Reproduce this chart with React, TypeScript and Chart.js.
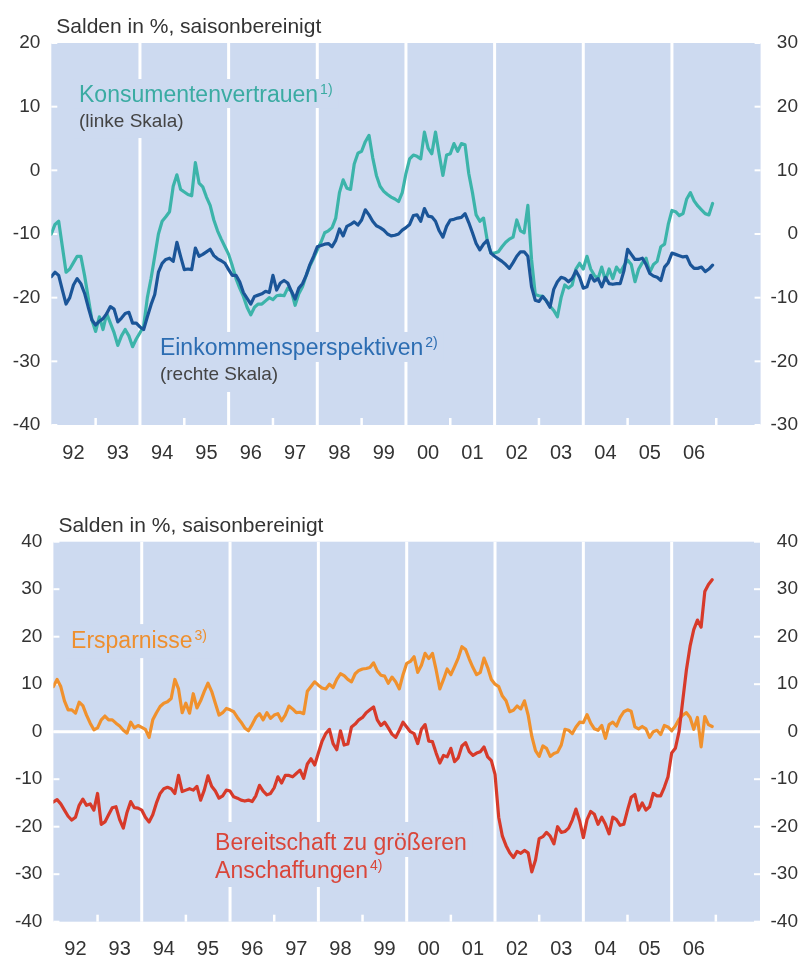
import React, { useEffect, useRef } from 'react';
import { Chart, registerables } from 'chart.js';

Chart.register(...registerables);

const FONT = "'Liberation Sans', Arial, Helvetica, sans-serif";
const PLOT_BG = '#cddaf0';
const TEXT = '#333333';

const START_YEAR = 1992;
const yearLabels = ['92', '93', '94', '95', '96', '97', '98', '99', '00', '01', '02', '03', '04', '05', '06'];
const dividerYears = [1994, 1996, 1998, 2000, 2002, 2004, 2006];
const minorTickYears = [1993, 1995, 1997, 1999, 2001, 2003, 2005, 2007];

// Top chart: monthly Jan 1992 – Dec 2006
const konsumentenvertrauen = [
  -10, -8.5, -8, -12, -16, -15.5, -14.5, -13.5, -13.5, -16.5, -20, -23.5,
  -25.3, -23, -25, -22.5, -24, -25.5, -27.5, -26, -25, -26, -27.7, -26.5,
  -25.5, -24.5, -20, -17, -13.5, -10, -8, -7.3, -6.5, -2.5, -0.7, -3,
  -3.4, -3.8, -4, 1.2, -2, -2.6, -4.2, -5.5, -7.8, -9.5, -10.8, -12,
  -13.2, -15, -17, -18.5, -19.8, -21.5, -22.7, -21.5, -21, -21, -20.5, -20,
  -20.3, -19.7, -19.6, -19.7, -18.5, -19, -21.2, -19.4, -18.3, -16.5, -15, -13.8,
  -12.5, -11.3, -9.8, -9.5, -9, -7.5, -3.5, -1.5, -2.8, -3, 1, 2.7,
  3, 4.5, 5.5, 2, -0.8, -2.5, -3.3, -3.8, -4.2, -4.5, -4.9, -3.5,
  -0.5, 1.8, 2.4, 2.2, 1.8, 6, 3.5, 2.6, 6, 2.5, -0.8, 2.4,
  2.6, 4.2, 3, 4.2, 4, -0.5, -3.5, -7, -8, -7.5, -11, -13,
  -13, -12.8, -12, -11.3, -10.8, -10.5, -7.8, -9.5, -9.8, -5.5, -14, -19.5,
  -19.7, -19.8, -20.5, -21.3, -22, -23, -20, -18, -18.5, -18, -15.5, -14.6,
  -15.5, -13.5, -15.5, -16.5, -17, -15.2, -17.3, -15.5, -17, -15.2, -16, -15,
  -14.1, -14.8, -17.5, -15.5, -14.5, -13.8, -16, -14.8, -14.3, -12, -11.6, -8.5,
  -6.3, -6.5, -7.1, -6.8, -4.5, -3.5, -4.8, -5.6, -6.2, -6.8, -7, -5.2,
];

const einkommensperspektiven = [
  -6.7, -6, -6.5, -8.8, -11, -10, -8, -7, -7.8, -9.3, -11.5, -13.5,
  -14.3, -13.7, -13.3, -12.5, -11.4, -11.8, -13.8, -13.2, -12.5, -12.3, -14, -14,
  -14.6, -15, -13, -11.1, -9.5, -6, -4.6, -4, -3.8, -4.3, -1.3, -3.5,
  -5.6, -5.5, -5.6, -2.2, -3.5, -3.2, -2.8, -2.4, -3.4, -3.9, -4.2, -4.6,
  -5.6, -6.5, -6.5, -7.5, -9.2, -10.1, -11, -9.8, -9.6, -9.4, -9, -9.2,
  -6.5, -8.8, -7.7, -7.3, -7.7, -9, -10.2, -8.5, -7.8, -6.5, -4.8, -3.5,
  -2, -1.8, -1.6, -1.5, -2, -1, 0.8, -0.3, 1.2, 1.5, 1.9, 1.4,
  2.2, 3.8, 3, 2, 1.3, 1, 0.6, 0, -0.3, -0.2, 0, 0.6,
  1, 1.5, 2.9, 3, 2, 4, 2.8, 2.7, 2, 0.5, -0.5, 1.2,
  2.2, 2.3, 2.5, 2.6, 3.2, 1.8, 0.2, -1.5, -2.5, -1.6, -1, -3,
  -3.5, -3.9, -4.3, -4.8, -5.4, -4.5, -3.5, -2.8, -2.8, -3.5, -8.3, -10.4,
  -10.6, -9.8, -10.5, -11.5, -8.7, -7.5, -6.8, -7, -7.5, -7, -5.8, -6.8,
  -8.5, -8.3, -6.5, -7.4, -7, -8.3, -6.8, -7.8, -7.9, -7.8, -7.8, -5.8,
  -2.4, -3.2, -4, -4, -3.8, -4.8, -6.2, -6.6, -6.8, -7.3, -5.2, -4.5,
  -3, -3.2, -3.4, -3.6, -3.5, -4.8, -5.4, -5.4, -5.2, -5.9, -5.5, -4.9,
];

// Bottom chart
const ersparnisse = [
  9.5, 11, 9.5, 6.5, 4.6, 4.6, 3.9, 6.2, 5.5, 3.5, 1.8, 0.4,
  0.8, 2.5, 3.3, 2.5, 2.5, 1.8, 1.2, 0.3, -0.3, 2, 0.8, 1.3,
  0.9, 0.5, -1.2, 2.5, 4, 5.3, 6, 6.3, 7, 11, 9, 4,
  6, 3.9, 8, 5, 6.5, 8.5, 10.2, 8.5, 6, 3.5, 4, 4.9,
  4.6, 4.2, 3, 2, 0.8, 0.2, 1.5, 3, 3.8, 2.5, 4, 2.8,
  3.5, 3.8, 2.3, 3.5, 5.4, 4.8, 4, 4.1, 3.8, 8.5, 9.5, 10.5,
  9.8, 9.2, 9, 10, 9.3, 11, 12.2, 11.8, 11, 10.5, 12.2, 12.9,
  13.2, 13.3, 13.5, 14.5, 12.8, 11.9, 11.7, 10.2, 11.5, 10.5, 9, 12,
  14.4, 14.8, 15.8, 12.5, 14, 16.5, 15.4, 16.5, 13, 9, 11, 13.2,
  12, 13.7, 15.5, 17.9, 17.3, 15.3, 13.5, 12, 12.5, 15.5, 13.5, 11,
  10, 9.5, 7.5, 6.5, 4.2, 4.5, 5.4, 4.8, 6.5, 3.5, -1, -4,
  -5.2, -3, -3.5, -5.2, -4.6, -4.3, -2.8, 0.5, 0.3, -0.4, 1, 2,
  1.9, 3.6, 1.8, 0.6, 0.3, 1.3, -1.4, 1.5, 2, 1.2, 3, 4.2,
  4.6, 4.3, 1, 0.6, 1.1, 0.6, -1.2, 0, 0.3, -0.6, 1.3, 1,
  0.2, 1.2, 2.6, 3.5, 4, 3, 0.5, 3, -3.2, 3.2, 1.5, 1.1,
];

const bereitschaft = [
  -14.8, -14.3, -15.2, -16.5, -17.8, -18.6, -18, -15.5, -14.2, -15.5, -15.2, -16.5,
  -13, -19.5, -19, -17.5, -16, -15.8, -18.5, -20.3, -17, -14.7, -16, -16.1,
  -16.5, -18, -19, -17.5, -15, -13, -12, -11.7, -12, -13, -9.2, -12.6,
  -12.3, -12, -12.3, -11.5, -14.4, -12.3, -9.3, -11.5, -12.5, -14, -13.5, -12.3,
  -12.5, -13.7, -14, -14.4, -14.6, -14.4, -14.7, -13.5, -11.3, -12.5, -13.3, -13,
  -11.8, -9.5, -10.8, -9.2, -9.2, -9.5, -8.8, -8.1, -9.8, -6.8, -5.7, -7,
  -4.5, -2, -0.4, 0.5, -2.5, -3.8, 0.2, -2.8, -2.6, 1, 1.6, 2.5,
  3, 4, 4.6, 5.2, 2.5, 1.3, 2, 0.8, -0.5, -1.2, 0.3, 2,
  1, 0, -0.4, -2.5, 0.5, 1.5, -2, -2.1, -4.5, -6.6, -5, -5.3,
  -3.5, -6.3, -5.5, -3, -2.3, -4.2, -5, -4.5, -4.2, -3.2, -5.3, -6.1,
  -9, -18, -22, -24, -25.5, -26.5, -25.2, -25.6, -25, -25.5, -29.5, -27,
  -22.5, -22.1, -21.2, -22, -23.6, -20, -21.2, -21, -20.3, -18.6, -16.3, -18.8,
  -22.3, -18.5, -16.8, -17.4, -19.5, -18, -19.5, -21.5, -18, -18.5, -19.7, -19.5,
  -16.5, -13.8, -13.2, -16.5, -15, -16.5, -15.8, -13, -13.5, -13.5, -11.7, -9.5,
  -4.5, -3.5, 0, 6.5, 13, 18, 21.5, 23.5, 22, 29.5, 31, 32,
];

type LabelSpec = {
  text: string;
  sup?: string;
  color: string;
  size: number;
  x: number; // year
  y: number; // value on left axis (baseline)
  up: number;
  down: number;
};

const toPoints = (arr: number[]) => arr.map((v, i) => ({ x: START_YEAR + i / 12, y: v }));

function line(ctx: CanvasRenderingContext2D, x1: number, y1: number, x2: number, y2: number) {
  ctx.beginPath();
  ctx.moveTo(x1, y1);
  ctx.lineTo(x2, y2);
  ctx.stroke();
}

function decorPlugin(title: string, labels: LabelSpec[], zeroLine: boolean) {
  return {
    id: 'decor',
    beforeDraw(chart: any) {
      const { ctx, chartArea: a } = chart;
      ctx.save();
      ctx.fillStyle = PLOT_BG;
      ctx.fillRect(a.left, a.top, a.right - a.left, a.bottom - a.top);
      ctx.restore();
    },
    beforeDatasetsDraw(chart: any) {
      const { ctx, chartArea: a, scales } = chart;
      const xs = scales.x;
      const ys = scales.y;
      const ys1 = scales.y1;
      ctx.save();
      ctx.strokeStyle = '#ffffff';
      ctx.lineCap = 'butt';
      ctx.lineWidth = 3;
      for (const yr of dividerYears) {
        const px = xs.getPixelForValue(yr);
        line(ctx, px, a.top, px, a.bottom);
      }
      if (zeroLine) {
        const py = ys.getPixelForValue(0);
        line(ctx, a.left, py, a.right, py);
      }
      ctx.lineWidth = 2.5;
      for (const yr of minorTickYears) {
        const px = xs.getPixelForValue(yr);
        line(ctx, px, a.bottom - 7, px, a.bottom);
      }
      ctx.lineWidth = 2;
      for (const t of ys.ticks) {
        const py = ys.getPixelForValue(t.value);
        line(ctx, a.left, py, a.left + 6, py);
      }
      for (const t of ys1.ticks) {
        const py = ys1.getPixelForValue(t.value);
        line(ctx, a.right - 6, py, a.right, py);
      }
      // series labels
      for (const l of labels) {
        const px = xs.getPixelForValue(l.x);
        const py = ys.getPixelForValue(l.y);
        ctx.font = `${l.size}px ${FONT}`;
        const tw = ctx.measureText(l.text).width;
        let sw = 0;
        if (l.sup) {
          ctx.font = `14px ${FONT}`;
          sw = ctx.measureText(l.sup).width + 2;
        }
        ctx.fillStyle = PLOT_BG;
        ctx.fillRect(px - 6, py - l.up, tw + sw + 12, l.up + l.down);
        ctx.fillStyle = l.color;
        ctx.textBaseline = 'alphabetic';
        ctx.textAlign = 'left';
        ctx.font = `${l.size}px ${FONT}`;
        ctx.fillText(l.text, px, py);
        if (l.sup) {
          ctx.font = `14px ${FONT}`;
          ctx.fillText(l.sup, px + tw + 2, py - 8);
        }
      }
      // title
      ctx.fillStyle = TEXT;
      ctx.font = `21px ${FONT}`;
      ctx.textAlign = 'left';
      ctx.textBaseline = 'alphabetic';
      ctx.fillText(title, a.left + 5, a.top - 10);
      ctx.restore();
    },
  };
}

const TITLE = 'Salden in %, saisonbereinigt';

function makeOptions(
  yMin: number,
  yMax: number,
  y1Min: number,
  y1Max: number,
  leftW: number,
  rightW: number,
  xH: number,
  padTop: number
) {
  const tickFont = { family: FONT, size: 19 };
  return {
    responsive: false,
    animation: false as const,
    layout: { padding: { top: padTop, left: 0, right: 0, bottom: 0 } },
    plugins: { legend: { display: false }, tooltip: { enabled: false }, title: { display: false } },
    elements: { point: { radius: 0 }, line: { borderJoinStyle: 'round' as const, borderCapStyle: 'round' as const } },
    scales: {
      x: {
        type: 'linear' as const,
        min: START_YEAR,
        max: START_YEAR + 16,
        grid: { display: false, drawTicks: false },
        border: { display: false },
        afterBuildTicks: (s: any) => {
          s.ticks = yearLabels.map((_, i) => ({ value: START_YEAR + 0.5 + i }));
        },
        afterFit: (s: any) => {
          s.height = xH;
        },
        ticks: {
          autoSkip: false,
          maxRotation: 0,
          padding: 16,
          color: TEXT,
          font: { family: FONT, size: 20 },
          callback: (_v: any, i: number) => yearLabels[i],
        },
      },
      y: {
        position: 'left' as const,
        min: yMin,
        max: yMax,
        grid: { display: false, drawTicks: false },
        border: { display: false },
        afterFit: (s: any) => {
          s.width = leftW;
        },
        ticks: { stepSize: 10, padding: 11, color: TEXT, font: tickFont },
      },
      y1: {
        position: 'right' as const,
        min: y1Min,
        max: y1Max,
        grid: { display: false, drawTicks: false },
        border: { display: false },
        afterFit: (s: any) => {
          s.width = rightW;
        },
        ticks: { stepSize: 10, padding: 9, crossAlign: 'far' as const, color: TEXT, font: tickFont },
      },
    },
  };
}

const topLabels: LabelSpec[] = [
  { text: 'Konsumentenvertrauen', sup: '1)', color: '#3aaba2', size: 23, x: 1992.625, y: 10.73, up: 23, down: 6 },
  { text: '(linke Skala)', color: '#444444', size: 19, x: 1992.625, y: 6.8, up: 19, down: 11 },
  { text: 'Einkommensperspektiven', sup: '2)', color: '#2c6db2', size: 23, x: 1994.45, y: -29.0, up: 23, down: 7 },
  { text: '(rechte Skala)', color: '#444444', size: 19, x: 1994.45, y: -32.93, up: 18, down: 12 },
];

const bottomLabels: LabelSpec[] = [
  { text: 'Ersparnisse', sup: '3)', color: '#ee8f2e', size: 23, x: 1992.4, y: 17.6, up: 24, down: 10 },
  { text: 'Bereitschaft zu größeren', color: '#d9463a', size: 23, x: 1995.66, y: -24.9, up: 28, down: 7 },
  { text: 'Anschaffungen', sup: '4)', color: '#d9463a', size: 23, x: 1995.66, y: -30.8, up: 21, down: 9 },
];

export default function App() {
  const topRef = useRef<HTMLCanvasElement | null>(null);
  const botRef = useRef<HTMLCanvasElement | null>(null);

  useEffect(() => {
    if (!topRef.current || !botRef.current) return;
    const top = new Chart(topRef.current, {
      type: 'line',
      data: {
        datasets: [
          {
            label: 'Einkommensperspektiven',
            data: toPoints(einkommensperspektiven),
            yAxisID: 'y1',
            borderColor: '#1b5598',
            borderWidth: 3.2,
            order: 0,
          },
          {
            label: 'Konsumentenvertrauen',
            data: toPoints(konsumentenvertrauen),
            yAxisID: 'y',
            borderColor: '#3cb4aa',
            borderWidth: 3.2,
            order: 1,
          },
        ],
      },
      options: makeOptions(-40, 20, -30, 30, 51.3, 37.4, 55, 43) as any,
      plugins: [decorPlugin(TITLE, topLabels, false)],
    });
    const bottom = new Chart(botRef.current, {
      type: 'line',
      data: {
        datasets: [
          {
            label: 'Bereitschaft zu größeren Anschaffungen',
            data: toPoints(bereitschaft),
            yAxisID: 'y',
            borderColor: '#d73a2a',
            borderWidth: 3.2,
            order: 0,
          },
          {
            label: 'Ersparnisse',
            data: toPoints(ersparnisse),
            yAxisID: 'y',
            borderColor: '#f0912d',
            borderWidth: 3.2,
            order: 1,
          },
        ],
      },
      options: makeOptions(-40, 40, -40, 40, 53.4, 38, 36.3, 61.7) as any,
      plugins: [decorPlugin(TITLE, bottomLabels, true)],
    });
    return () => {
      top.destroy();
      bottom.destroy();
    };
  }, []);

  return (
    <div style={{ position: 'absolute', left: 0, top: 0, width: 798, height: 958, background: '#ffffff' }}>
      <canvas ref={topRef} width={798} height={480} style={{ display: 'block', width: 798, height: 480 }} />
      <canvas ref={botRef} width={798} height={478} style={{ display: 'block', width: 798, height: 478 }} />
    </div>
  );
}
